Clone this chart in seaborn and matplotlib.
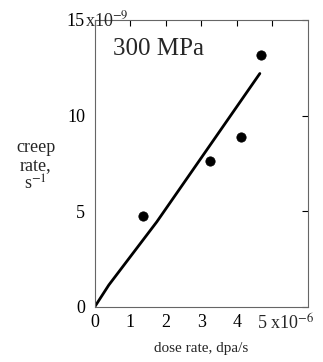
import matplotlib
matplotlib.use("Agg")
import matplotlib.pyplot as plt
import seaborn as sns
import pandas as pd

# data (dose rate in 1e-6 dpa/s, creep rate in 1e-9 1/s)
dose_rate = [1.35, 3.25, 4.11, 4.68]
creep_rate = [4.75, 7.65, 8.88, 13.15]
fit_x = [0.0, 0.4, 1.75, 4.65]
fit_y = [0.0, 1.15, 4.45, 12.2]
x_ticks = [0, 1, 2, 3, 4, 5]
x_labels = ["0", "1", "2", "3", "4", ""]
y_ticks = [0, 5, 10, 15]
y_labels = ["0", "5", "10", "15"]

sns.set_theme(style="white")
plt.rcParams['font.family'] = ['Liberation Serif', 'DejaVu Serif']
plt.rcParams['mathtext.fontset'] = 'stix'

pts = pd.DataFrame({"dose": dose_rate, "creep": creep_rate})
fit = pd.DataFrame({"dose": fit_x, "creep": fit_y})

fig = plt.figure(figsize=(3.23, 3.62), dpi=100)
ax = fig.add_axes([0.293, 0.152, 0.660, 0.793])

sns.lineplot(data=fit, x="dose", y="creep", color="black", lw=2.0, ax=ax)
sns.scatterplot(data=pts, x="dose", y="creep", color="black", s=45,
                edgecolor="black", ax=ax, zorder=3)

ax.set_xlim(0, 6.0)
ax.set_ylim(0, 15)
ax.set_xticks(x_ticks)
ax.set_xticklabels(x_labels)
ax.set_yticks(y_ticks)
ax.set_yticklabels(y_labels)
ax.tick_params(direction="in", length=4, width=0.8, top=True, right=True,
               labelsize=13, colors="black")
ax.tick_params(axis="x", pad=5)
ax.tick_params(axis="y", pad=7)
for s in ax.spines.values():
    s.set_color("#666666")
    s.set_linewidth(0.8)

# last tick labels carry the exponent multiplier
ax.text(0.761, -0.022, "5 x10$^{-6}$", transform=ax.transAxes, fontsize=13,
        ha="left", va="top")
ax.text(-0.044, 1.0, "x10$^{-9}$", transform=ax.transAxes, fontsize=13,
        ha="left", va="center")

ax.set_xlabel("dose rate, dpa/s", fontsize=11, labelpad=8)
ax.set_ylabel("")
fig.text(0.111, 0.54, "creep\nrate,\ns$^{-1}$", fontsize=13, ha="center",
         va="center", linespacing=1.05)
ax.text(0.52, 13.16, "300 MPa", fontsize=18, va="baseline")

fig.savefig("out.png", dpi=100)
